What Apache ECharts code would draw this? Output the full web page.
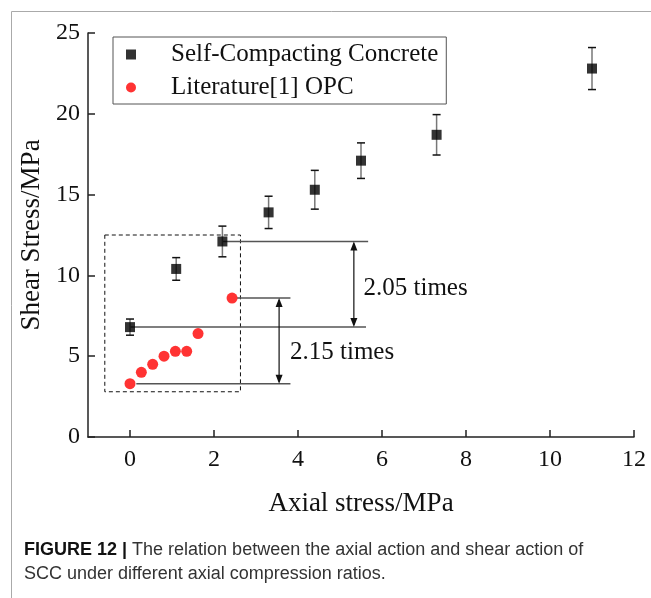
<!DOCTYPE html>
<html>
<head>
<meta charset="utf-8">
<script src="https://cdn.jsdelivr.net/npm/echarts@6/dist/echarts.min.js"></script>
<style>
  html, body { margin: 0; padding: 0; background: #fff; }
  #chart { width: 651px; height: 598px; }
</style>
</head>
<body>
<div id="chart"></div>
<script>
// self-compacting concrete: mean shear stress + error bar half-length
const sccX = [0, 1.1, 2.2, 3.3, 4.4, 5.5, 7.3, 11];
const sccY = [6.8, 10.4, 12.1, 13.9, 15.3, 17.1, 18.7, 22.8];
const sccErr = [0.5, 0.7, 0.95, 1.0, 1.2, 1.1, 1.25, 1.3];

// literature [1] ordinary portland cement
const opcX = [0, 0.27, 0.54, 0.81, 1.08, 1.35, 1.62, 2.43];
const opcY = [3.3, 4.0, 4.5, 5.0, 5.3, 5.3, 6.4, 8.6];

const legendNames = ['Self-Compacting Concrete', 'Literature[1] OPC'];

// annotation pieces, all in data units
const dashBox = [[-0.6, 2.8, 2.63, 12.5]];            // [x0, y0, x1, y1]
const leaders = [[2.2, 12.1, 5.67], [0, 6.8, 5.62],
                 [2.55, 8.6, 3.82], [0.15, 3.3, 3.82]]; // [xStart, y, xEnd]
const arrows = [[5.33, 12.1, 6.8], [3.55, 8.6, 3.3]];    // [x, yTop, yBottom]
const notes = [[5.56, 9.2, '2.05 times'], [3.81, 5.25, '2.15 times']];

const SERIF = '"Liberation Serif", "Times New Roman", serif';
const SANS = '"Liberation Sans", Arial, sans-serif';

const el = document.getElementById('chart');
const chart = echarts.init(el, null, { renderer: 'canvas' });

const errorBars = (params, api) => {
  const x = api.value(0), y = api.value(1), e = api.value(2);
  const top = api.coord([x, y + e]);
  const bot = api.coord([x, y - e]);
  const c = 4;
  return {
    type: 'group',
    children: [
      { type: 'line', shape: { x1: top[0], y1: top[1], x2: bot[0], y2: bot[1] }, style: { stroke: '#777', lineWidth: 1.5 } },
      { type: 'line', shape: { x1: top[0] - c, y1: top[1], x2: top[0] + c, y2: top[1] }, style: { stroke: '#111', lineWidth: 1.5 } },
      { type: 'line', shape: { x1: bot[0] - c, y1: bot[1], x2: bot[0] + c, y2: bot[1] }, style: { stroke: '#111', lineWidth: 1.5 } }
    ]
  };
};

const boxItem = (params, api) => {
  const p0 = api.coord([api.value(0), api.value(1)]);
  const p1 = api.coord([api.value(2), api.value(3)]);
  return {
    type: 'rect',
    shape: { x: p0[0], y: p1[1], width: p1[0] - p0[0], height: p0[1] - p1[1] },
    style: { fill: null, stroke: '#111', lineWidth: 1, lineDash: [4, 3] }
  };
};

const leaderItem = (params, api) => {
  const a = api.coord([api.value(0), api.value(1)]);
  const b = api.coord([api.value(2), api.value(1)]);
  return { type: 'line', shape: { x1: a[0], y1: a[1], x2: b[0], y2: b[1] }, style: { stroke: '#555', lineWidth: 1.5 } };
};

const arrowItem = (params, api) => {
  const t = api.coord([api.value(0), api.value(1)]);
  const b = api.coord([api.value(0), api.value(2)]);
  const h = 9, w = 3.5;
  return {
    type: 'group',
    children: [
      { type: 'line', shape: { x1: t[0], y1: t[1] + 2, x2: b[0], y2: b[1] - 2 }, style: { stroke: '#111', lineWidth: 1.2 } },
      { type: 'polygon', shape: { points: [[t[0], t[1]], [t[0] - w, t[1] + h], [t[0] + w, t[1] + h]] }, style: { fill: '#111' } },
      { type: 'polygon', shape: { points: [[b[0], b[1]], [b[0] - w, b[1] - h], [b[0] + w, b[1] - h]] }, style: { fill: '#111' } }
    ]
  };
};

const noteItem = (params, api) => {
  const p = api.coord([api.value(0), api.value(1)]);
  return {
    type: 'text',
    x: p[0], y: p[1],
    style: { text: notes[params.dataIndex][2], font: '25px ' + SERIF, fill: '#111', align: 'left', verticalAlign: 'middle' }
  };
};

chart.setOption({
  backgroundColor: '#fff',
  animation: false,
  grid: { left: 88, right: 17, top: 33, bottom: 161 },
  legend: {
    data: legendNames,
    orient: 'vertical',
    left: 113, top: 37,
    itemWidth: 10, itemHeight: 10, itemGap: 8,
    padding: [5, 8, 4, 13],
    borderColor: '#555', borderWidth: 1,
    textStyle: { fontFamily: SERIF, fontSize: 25, color: '#111', lineHeight: 25, padding: [0, 0, 0, 30] }
  },
  xAxis: {
    type: 'value',
    min: -1, max: 12,
    splitNumber: 6, minInterval: 2, maxInterval: 2,
    name: 'Axial stress/MPa', nameLocation: 'middle', nameGap: 53,
    nameTextStyle: { fontFamily: SERIF, fontSize: 27, color: '#111' },
    axisLine: { onZero: false, lineStyle: { color: '#222', width: 1.5 } },
    axisTick: { inside: true, length: 7, lineStyle: { color: '#222', width: 1.5 } },
    axisLabel: { showMinLabel: false, margin: 11, fontFamily: SERIF, fontSize: 24, color: '#111' },
    splitLine: { show: false }
  },
  yAxis: {
    type: 'value',
    min: 0, max: 25, interval: 5,
    name: 'Shear Stress/MPa', nameLocation: 'middle', nameGap: 32,
    nameTextStyle: { fontFamily: SERIF, fontSize: 27, color: '#111' },
    axisLine: { show: true, onZero: false, lineStyle: { color: '#222', width: 1.5 } },
    axisTick: { show: true, inside: true, length: 7, lineStyle: { color: '#222', width: 1.5 } },
    axisLabel: { margin: 8, fontFamily: SERIF, fontSize: 24, color: '#111' },
    splitLine: { show: false }
  },
  graphic: [
    { type: 'rect', left: 9, top: 9, shape: { width: 700, height: 700 }, style: { fill: null, stroke: '#aaa', lineWidth: 1 }, silent: true },
    {
      type: 'text', left: 24, top: 541,
      style: {
        text: '{b|FIGURE 12 |}{n| The relation between the axial action and shear action of}\n{n|SCC under different axial compression ratios.}',
        rich: {
          b: { fontFamily: SANS, fontSize: 18, fontWeight: 'bold', fill: '#111', lineHeight: 24 },
          n: { fontFamily: SANS, fontSize: 18, fill: '#333', lineHeight: 24 }
        }
      }
    }
  ],
  series: [
    { type: 'custom', name: 'box', renderItem: boxItem, data: dashBox, silent: true, z: 1 },
    { type: 'custom', name: 'leaders', renderItem: leaderItem, data: leaders, silent: true, z: 1 },
    { type: 'custom', name: 'arrows', renderItem: arrowItem, data: arrows, silent: true, z: 1 },
    { type: 'custom', name: 'notes', renderItem: noteItem, data: notes.map(n => [n[0], n[1]]), silent: true, z: 1 },
    { type: 'custom', name: 'err', renderItem: errorBars, data: sccX.map((x, i) => [x, sccY[i], sccErr[i]]), silent: true, z: 2 },
    {
      type: 'scatter', name: legendNames[0], symbol: 'rect', symbolSize: 10,
      itemStyle: { color: '#000' }, z: 3,
      data: sccX.map((x, i) => [x, sccY[i]])
    },
    {
      type: 'scatter', name: legendNames[1], symbol: 'circle', symbolSize: 11,
      itemStyle: { color: '#ff0000' }, z: 3,
      data: opcX.map((x, i) => [x, opcY[i]])
    }
  ]
});
</script>
</body>
</html>
